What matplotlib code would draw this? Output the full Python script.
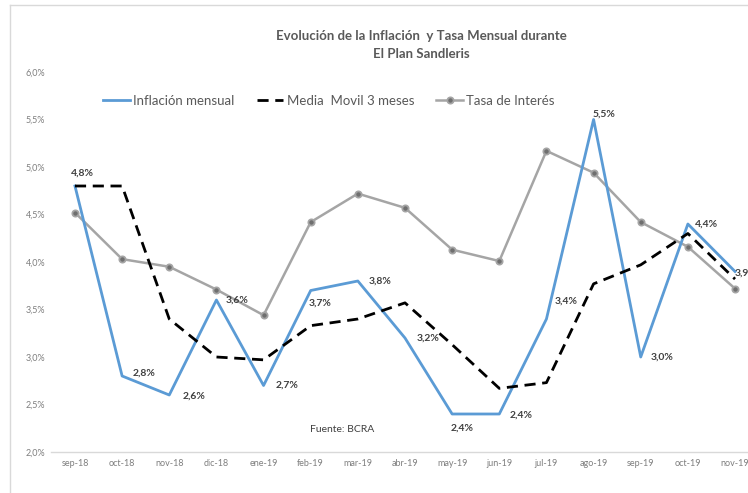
import matplotlib
matplotlib.use("Agg")
import matplotlib.pyplot as plt
from matplotlib.lines import Line2D

plt.rcParams['font.family'] = ['Lato', 'DejaVu Sans']

# ---- data ----
months = ["sep-18", "oct-18", "nov-18", "dic-18", "ene-19", "feb-19", "mar-19", "abr-19",
          "may-19", "jun-19", "jul-19", "ago-19", "sep-19", "oct-19", "nov-19"]
inflacion = [4.8, 2.8, 2.6, 3.6, 2.7, 3.7, 3.8, 3.2, 2.4, 2.4, 3.4, 5.5, 3.0, 4.4, 3.9]
media_movil = [4.8, 4.8, 3.4, 3.0, 2.97, 3.33, 3.4, 3.57, 3.13, 2.67, 2.73, 3.77, 3.97, 4.3, 3.82]
tasa = [4.52, 4.03, 3.95, 3.71, 3.44, 4.42, 4.72, 4.57, 4.13, 4.01, 5.17, 4.94, 4.42, 4.16, 3.72]
infl_labels = ["4,8%", "2,8%", "2,6%", "3,6%", "2,7%", "3,7%", "3,8%", "3,2%",
               "2,4%", "2,4%", "3,4%", "5,5%", "3,0%", "4,4%", "3,9%"]
yticks = [2.0, 2.5, 3.0, 3.5, 4.0, 4.5, 5.0, 5.5, 6.0]
ytick_labels = ["2,0%", "2,5%", "3,0%", "3,5%", "4,0%", "4,5%", "5,0%", "5,5%", "6,0%"]

# label offsets in pixels (dx, dy) relative to point
label_offsets = [(7, 13), (22, 3), (25, -1), (21, 0), (24, 0), (9, -13), (22, 0), (23, 0),
                 (10, -14), (22, -1), (20, 18), (10, 5), (21, 0), (19, 0), (11, -2)]

W, H = 748, 493
fig = plt.figure(figsize=(W / 100, H / 100), dpi=100)
fig.patch.set_facecolor("white")

# chart border (left and top visible)
fig.add_artist(Line2D([10 / W, 10 / W], [0, 1 - 5 / H], transform=fig.transFigure,
                      color="#D9D9D9", lw=1))
fig.add_artist(Line2D([10 / W, 1], [1 - 5 / H, 1 - 5 / H], transform=fig.transFigure,
                      color="#D9D9D9", lw=1))

left, right = 51.4, 758.6
ax = fig.add_axes([left / W, 41 / H, (right - left) / W, 380 / H])
x = list(range(len(months)))

blue = "#5B9BD5"
ax.plot(x, inflacion, color=blue, lw=2.0, label="Inflación mensual", zorder=3)
ax.plot(x, media_movil, color="black", lw=2.0, linestyle=(0, (4, 2.4)),
        label="Media  Movil 3 meses", zorder=4)
ax.plot(x, tasa, color="#A5A5A5", lw=1.8, marker="o", markersize=4.5,
        markerfacecolor="#6f6f6f", markeredgecolor="#A5A5A5", markeredgewidth=1.3,
        label="Tasa de Interés", zorder=2)

for xi, v, lab, (dx, dy) in zip(x, inflacion, infl_labels, label_offsets):
    ax.annotate(lab, (xi, v), xytext=(dx / 1.389, dy / 1.389), textcoords="offset points",
                ha="center", va="center", fontsize=7.5, fontweight="bold",
                color="#404040", annotation_clip=False, zorder=5)

ax.set_xlim(-0.5, len(months) - 0.5)
ax.set_ylim(2.0, 6.0)
ax.set_yticks(yticks)
ax.set_yticklabels(ytick_labels)
ax.set_xticks(x)
ax.set_xticklabels(months)
ax.tick_params(axis="both", length=0, labelsize=6.5, labelcolor="#7f7f7f")
ax.tick_params(axis="y", pad=4.5)
ax.tick_params(axis="x", pad=5)
for s in ["top", "right", "left"]:
    ax.spines[s].set_visible(False)
ax.spines["bottom"].set_color("#D9D9D9")
ax.spines["bottom"].set_linewidth(1.0)
ax.patch.set_alpha(0)

fig.text(421 / W, 1 - 36 / H, "Evolución de la Inflación  y Tasa Mensual durante",
         ha="center", va="center", fontsize=9.5, fontweight="bold", color="#595959")
fig.text(421 / W, 1 - 54 / H, "El Plan Sandleris",
         ha="center", va="center", fontsize=9.5, fontweight="bold", color="#595959")

fig.legend(loc="center", bbox_to_anchor=(329 / W, 1 - 101 / H), ncol=3, frameon=False,
           fontsize=9.5, labelcolor="#595959", handlelength=2.0, handletextpad=0.25,
           columnspacing=1.7)

fig.text(342 / W, 1 - 429 / H, "Fuente: BCRA", ha="center", va="center",
         fontsize=7.5, color="#404040")

fig.savefig("out.png", dpi=100)
